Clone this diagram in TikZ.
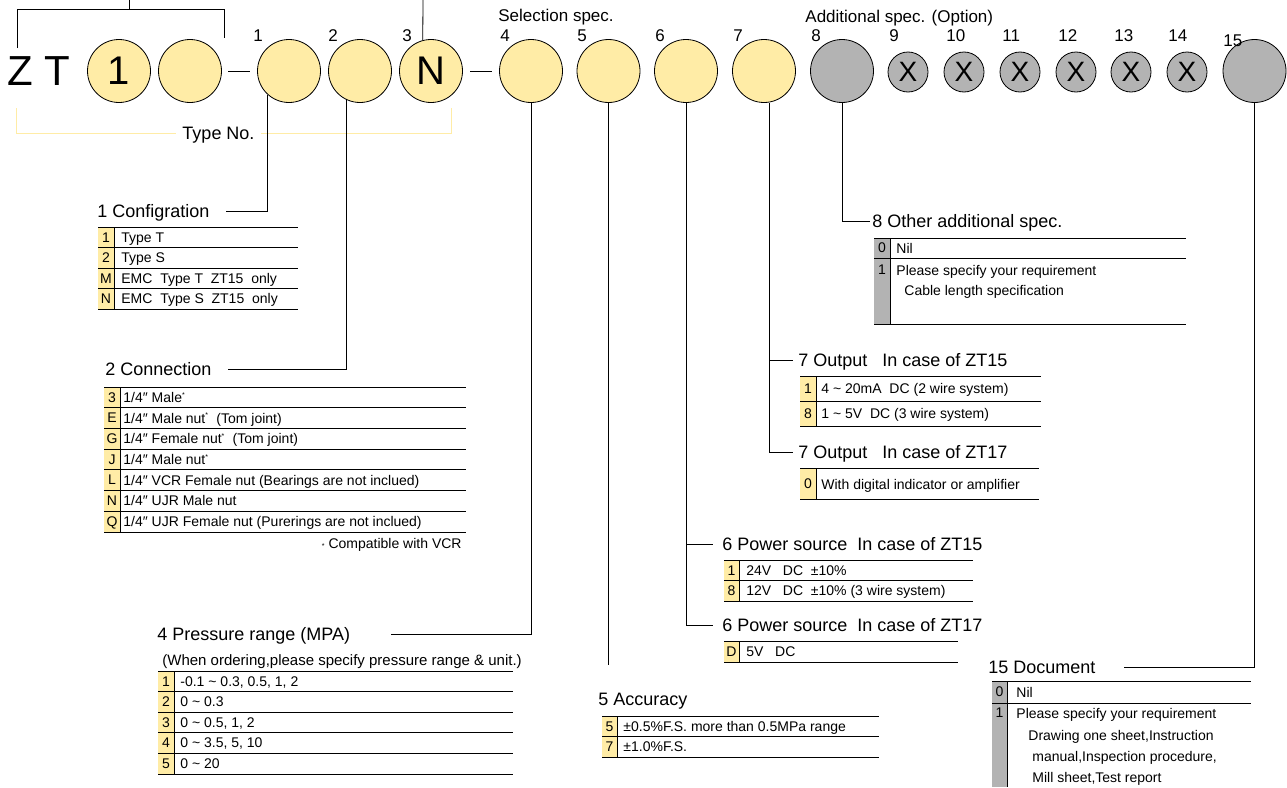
\documentclass[tikz,border=0pt]{standalone}
\usepackage{fontspec}
\setmainfont{Liberation Sans}
\usetikzlibrary{calc}
\definecolor{pale}{RGB}{255, 236, 166}
\definecolor{grey}{RGB}{179, 179, 179}
\newcommand\qtr{1/4″}
\newcommand\til{\textasciitilde}
\newcommand\vcr{\textsuperscript{\scriptsize *}}

\begin{document}
\begin{tikzpicture}[x=1pt, y=-1pt, line width=0.8pt,
  digit/.style={circle, draw, fill=pale, minimum size=63pt, inner sep=0pt, font=\fontsize{40}{40}\selectfont},
  opt/.style={digit, fill=grey},
  small/.style={opt, minimum size=40pt, font=\fontsize{28}{28}\selectfont},
  big/.style={inner sep=0pt, font=\fontsize{42}{42}\selectfont},
  num/.style={anchor=west, inner sep=0pt, text depth=0pt, font=\fontsize{17}{17}\selectfont},
  head/.style={anchor=west, inner sep=0pt, text depth=0pt, font=\fontsize{18}{18}\selectfont},
  row/.style={anchor=west, inner sep=0pt, text depth=0pt, font=\fontsize{14}{14}\selectfont},
  code/.style={inner sep=0pt, text depth=0pt, font=\fontsize{14}{14}\selectfont}]
  \useasboundingbox (0,0) rectangle (1287,787);

  % code row
  \node[big] (z) at (20,71) {Z};
  \node[big] (t) at (57,71) {T};
  \node[digit] (ca) at (119,71) {1};
  \node[digit] (cb) at (190,71) {};
  \node[digit] (c1) at (289,71) {};
  \node[digit] (c2) at (360,71) {};
  \node[digit] (c3) at (431,71) {N};
  \node[digit] (c4) at (531,71) {};
  \node[digit] (c5) at (608.5,71) {};
  \node[digit] (c6) at (686,71) {};
  \node[digit] (c7) at (764,71) {};
  \node[opt] (c8) at (842,71) {};
  \foreach \x [count=\i from 9] in {908, 964, 1020, 1076, 1131, 1187}
    \node[small] (c\i) at (\x,72) {X};
  \node[opt] (c15) at (1254.5,71) {};

  \draw ([xshift=6.5pt]cb.east) -- ([xshift=-7.5pt]c1.west);
  \draw ([xshift=7.5pt]c3.east) -- ([xshift=-7.5pt]c4.west);

  % digit numbers
  \foreach \x/\n in {253/1, 328/2, 402/3, 500/4, 577/5, 655/6, 733/7, 811/8,
                     889/9, 946/10, 1002/11, 1058/12, 1114/13, 1168/14}
    \node[num] (n\n) at (\x,36) {\n};
  \node[num] (n15) at (1223,41) {15};
  \node[num] (sel) at (498,15) {Selection spec.};
  \node[num] (add) at (805,16) {Additional spec. (Option)};

  % brackets
  \coordinate (br-l) at (17,48);
  \coordinate (br-r) at (224,38);
  \coordinate (br-top) at (129,0);
  \coordinate (n-top) at (423,0);
  \draw (br-l) -- ++(0,-39) -| (br-r);
  \draw (br-top) -- ++(0,9);
  \draw (n-top) -- (c3.105);

  \node[head, anchor=center, inner xsep=6pt] (typeno) at (218.5,133) {Type No.};
  \draw[pale] (16,108) |- (typeno.west);
  \draw[pale] (451,108) |- (typeno.east);

  % 1 Configration
  \node[head] (cfg) at (97,211) {1 Configration};
  \draw (c1.-132) |- ([xshift=16pt]cfg.east);
  \fill[pale] (98,227) rectangle (114,309);
  \draw (114,227) -- (114,309);
  \draw (98,227) -- (298,227);
  \foreach \k/\t [count=\i] in {1/Type T, 2/Type S,
      M/EMC\ \ Type T\ \ ZT15\ \ only, N/EMC\ \ Type S\ \ ZT15\ \ only} {
    \draw (98,227+20.5*\i) -- (298,227+20.5*\i);
    \node[code] (cfg-k\i) at (106,216.75+20.5*\i) {\k};
    \node[row] (cfg-t\i) at (121,216.75+20.5*\i) {\t};
  }

  % 2 Connection
  \node[head] (con) at (105,369) {2 Connection};
  \draw (c2.-116) |- ([xshift=16pt]con.east);
  \fill[pale] (104,387) rectangle (120,532);
  \draw (120,387) -- (120,532);
  \draw (104,387) -- (466,387);
  \foreach \k/\t [count=\i] in {3/\qtr{} Male\vcr,
      E/\qtr{} Male nut\vcr\ \ (Tom joint),
      G/\qtr{} Female nut\vcr\ \ (Tom joint),
      J/\qtr{} Male nut\vcr,
      L/\qtr{} VCR Female nut (Bearings are not inclued),
      N/\qtr{} UJR Male nut,
      Q/\qtr{} UJR Female nut (Purerings are not inclued)} {
    \draw (104,387+20.7*\i) -- (466,387+20.7*\i);
    \node[code] (con-k\i) at (112,376.65+20.7*\i) {\k};
    \node[row] (con-t\i) at (123,376.65+20.7*\i) {\t};
  }
  \node[row, anchor=east] (con-note) at (462,543) {{\scriptsize *} Compatible with VCR};

  % 4 Pressure range
  \node[head] (pr) at (157,634) {4 Pressure range (MPA)};
  \draw (c4.south) |- ([xshift=40pt]pr.east);
  \node[row, font=\fontsize{15}{15}\selectfont] (pr-sub) at (162,660)
    {(When ordering,please specify pressure range \& unit.)};
  \fill[pale] (158,671) rectangle (174,774);
  \draw (174,671) -- (174,774);
  \draw (158,671) -- (513,671);
  \foreach \k/\t [count=\i] in {{1/-0.1 \til{} 0.3, 0.5, 1, 2}, 2/0 \til{} 0.3,
      {3/0 \til{} 0.5, 1, 2}, {4/0 \til{} 3.5, 5, 10}, 5/0 \til{} 20} {
    \draw (158,671+20.6*\i) -- (513,671+20.6*\i);
    \node[code] (pr-k\i) at (166,660.7+20.6*\i) {\k};
    \node[row] (pr-t\i) at (180,660.7+20.6*\i) {\t};
  }

  % 5 Accuracy
  \coordinate (acc-end) at (c5.south |- 0,665);
  \draw (c5.south) -- (acc-end);
  \node[head] (acc) at (598,699) {5 Accuracy};
  \fill[pale] (602,716) rectangle (617,757);
  \draw (617,716) -- (617,757);
  \draw (602,716) -- (879,716);
  \foreach \k/\t [count=\i] in {5/±0.5\%F.S. more than 0.5MPa range, 7/±1.0\%F.S.} {
    \draw (602,716+20.5*\i) -- (879,716+20.5*\i);
    \node[code] (acc-k\i) at (609.5,705.75+20.5*\i) {\k};
    \node[row] (acc-t\i) at (623,705.75+20.5*\i) {\t};
  }

  % 6 Power source
  \node[head] (ps15) at (722,544) {6 Power source\ \ In case of ZT15};
  \node[head] (ps17) at (722,625) {6 Power source\ \ In case of ZT17};
  \draw (c6.south) |- ([xshift=-9pt]ps17.west);
  \draw (c6.south |- ps15.west) -- ([xshift=-9pt]ps15.west);
  \fill[pale] (724,560) rectangle (739,601);
  \draw (739,560) -- (739,601);
  \draw (724,560) -- (973,560);
  \foreach \k/\t [count=\i] in {1/24V\ \ \ DC\ \ ±10\%, 8/12V\ \ \ DC\ \ ±10\% (3 wire system)} {
    \draw (724,560+20.5*\i) -- (973,560+20.5*\i);
    \node[code] (ps15-k\i) at (731.5,549.75+20.5*\i) {\k};
    \node[row] (ps15-t\i) at (746,549.75+20.5*\i) {\t};
  }
  \fill[pale] (724,641) rectangle (739,662);
  \draw (739,641) -- (739,662);
  \draw (724,641) -- (958,641);
  \draw (724,662) -- (958,662);
  \node[code] (ps17-k1) at (731.5,651.5) {D};
  \node[row] (ps17-t1) at (746,651.5) {5V\ \ \ DC};

  % 7 Output
  \node[head] (out15) at (798,360) {7 Output\ \ \ In case of ZT15};
  \node[head] (out17) at (798,452) {7 Output\ \ \ In case of ZT17};
  \draw (c7.-81) |- ([xshift=-5pt]out17.west);
  \draw (c7.-81 |- out15.west) -- ([xshift=-5pt]out15.west);
  \fill[pale] (800,376) rectangle (816,426);
  \draw (816,376) -- (816,426);
  \draw (800,376) -- (1041,376);
  \foreach \k/\t [count=\i] in {1/4 \til{} 20mA\ \ DC (2 wire system), 8/1 \til{} 5V\ \ DC (3 wire system)} {
    \draw (800,376+25*\i) -- (1041,376+25*\i);
    \node[code] (out15-k\i) at (808,363.5+25*\i) {\k};
    \node[row] (out15-t\i) at (821,363.5+25*\i) {\t};
  }
  \fill[pale] (800,468) rectangle (816,499);
  \draw (816,468) -- (816,499);
  \draw (800,468) -- (1039,468);
  \draw (800,499) -- (1039,499);
  \node[code] (out17-k1) at (808,484) {0};
  \node[row] (out17-t1) at (821,484) {With digital indicator or amplifier};

  % 8 Other additional spec.
  \node[head] (oth) at (872,221) {8 Other additional spec.};
  \draw (c8.south) |- ([xshift=-2pt]oth.west);
  \fill[grey] (874,238) rectangle (890,324);
  \draw (890,238) -- (890,324);
  \draw (874,238) -- (1186,238);
  \draw (874,258) -- (1186,258);
  \draw (874,324) -- (1186,324);
  \node[code] (oth-k1) at (882,248) {0};
  \node[row] (oth-t1) at (896,248) {Nil};
  \node[code] (oth-k2) at (882,270) {1};
  \node[row] (oth-t2) at (896,270) {Please specify your requirement};
  \node[row] (oth-t3) at (904,290) {Cable length specification};

  % 15 Document
  \node[head] (doc) at (988,667) {15 Document};
  \draw (c15.south) |- ([xshift=28pt]doc.east);
  \fill[grey] (992,681) rectangle (1007,787);
  \draw (1007,681) -- (1007,787);
  \draw (992,681) -- (1251,681);
  \draw (992,703) -- (1251,703);
  \node[code] (doc-k1) at (999.5,692) {0};
  \node[row] (doc-t1) at (1016,692) {Nil};
  \node[code] (doc-k2) at (999.5,713) {1};
  \node[row] (doc-t2) at (1016,713) {Please specify your requirement};
  \node[row] (doc-t3) at (1028,735) {Drawing one sheet,Instruction};
  \node[row] (doc-t4) at (1032,756) {manual,Inspection procedure,};
  \node[row] (doc-t5) at (1032,777) {Mill sheet,Test report};
\end{tikzpicture}
\end{document}
